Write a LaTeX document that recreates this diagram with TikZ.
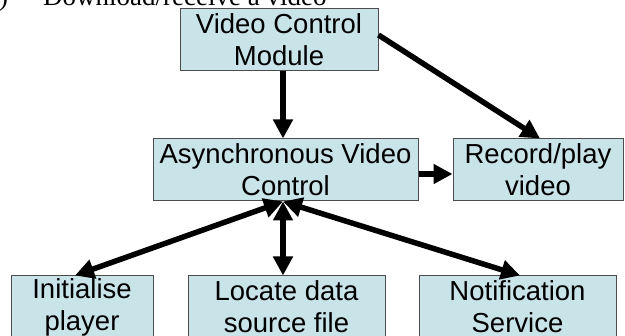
\documentclass[tikz,border=0pt]{standalone}
\usepackage{fontspec}
\setmainfont{Liberation Sans}
\newfontfamily\capfont{Liberation Serif}
\usetikzlibrary{arrows.meta}
\definecolor{boxblue}{RGB}{200,228,232}
\begin{document}
\begin{tikzpicture}
  [x=1pt,y=-1pt,
   box/.style={draw=black!70,line width=1pt,fill=boxblue,minimum height=62pt,
     inner sep=0pt,align=center,font=\fontsize{27.5}{32}\selectfont},
   link/.style={line width=5.5pt,-{Triangle[length=19pt,width=19pt]}},
   twoway/.style={line width=5.5pt,{Triangle[length=19pt,width=19pt]}-{Triangle[length=19pt,width=19pt]}}]
  \clip (0,0) rectangle (625,336);
  \node (cap) [anchor=base west,inner sep=0pt,font=\capfont\fontsize{27}{32}\selectfont]
    at (-14.5,6) {b)\hspace{35pt}Download/receive a video};

  \node[box,minimum width=198pt] (vcm)  at (279,40)    {Video Control\\Module};
  \node[box,minimum width=265pt] (avc)  at (285.5,170) {Asynchronous Video\\Control};
  \node[box,minimum width=170pt] (rec)  at (538,170)   {Record/play\\video};
  \node[box,minimum width=142pt] (init) at (82,307)    {Initialise\\player};
  \node[box,minimum width=197pt] (loc)  at (286.5,307) {Locate data\\source file};
  \node[box,minimum width=197pt] (note) at (517.5,307) {Notification\\Service};

  \draw[link] ([xshift=4pt]vcm.south) -- ([xshift=-2.5pt]avc.north);
  \draw[link] ([yshift=5pt]vcm.east) -- ([xshift=2pt]rec.north);
  \draw[link] ([yshift=-4pt]avc.east) -- ([yshift=-4pt]rec.west);

  \foreach \to/\dx in {init/-7,loc/-3.5,note/2.5}
    \draw[twoway] ([xshift=-2.5pt]avc.south) -- ([xshift=\dx pt]\to.north);

\end{tikzpicture}
\end{document}
